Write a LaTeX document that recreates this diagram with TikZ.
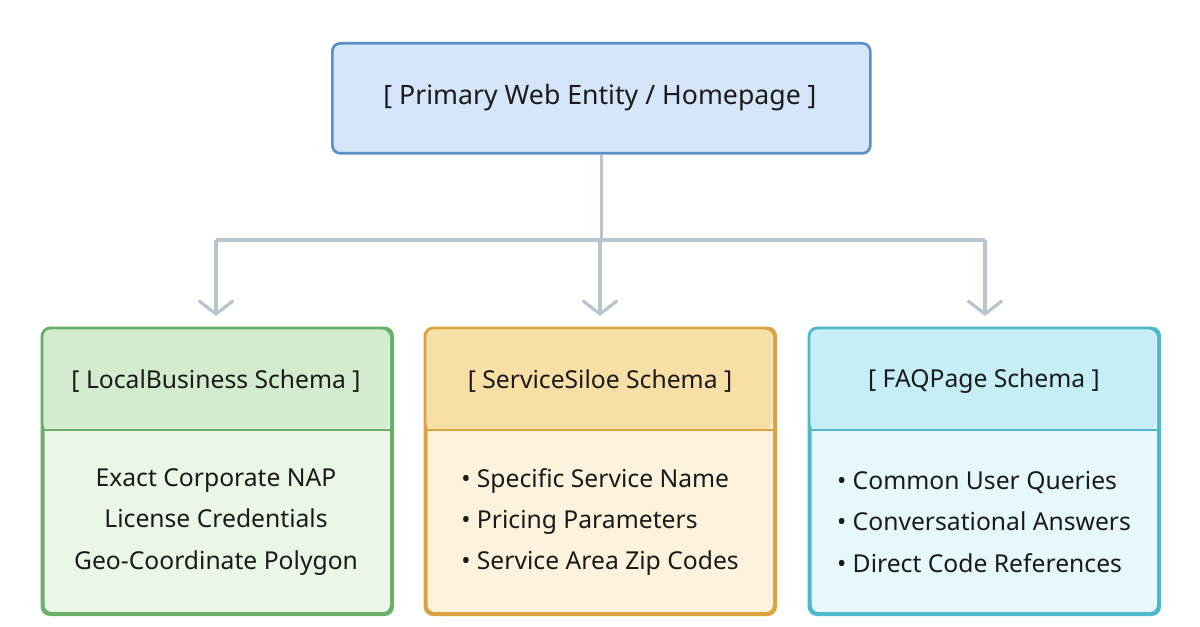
\documentclass[tikz,border=0pt]{standalone}
\usepackage{fontspec}
\setmainfont{Noto Sans}
\usetikzlibrary{arrows.meta,positioning}
\definecolor{conn}{HTML}{B8C4CF}
\definecolor{tb}{HTML}{5B8FC9}\definecolor{tf}{HTML}{D6E6FA}
\definecolor{gb}{HTML}{6AAF6A}\definecolor{gh}{HTML}{D2ECCD}\definecolor{gf}{HTML}{EAF6E6}
\definecolor{ob}{HTML}{D9A441}\definecolor{oh}{HTML}{F8DFA6}\definecolor{of}{HTML}{FDF3DD}
\definecolor{cb}{HTML}{4FB8CC}\definecolor{ch}{HTML}{C5EEF6}\definecolor{cf}{HTML}{E6F8FB}
\definecolor{txt}{HTML}{1A1A1A}
\begin{document}
\begin{tikzpicture}[x=0.75pt,y=-0.75pt,
  txtstyle/.style={text=txt,font=\fontsize{18.5pt}{30.8pt}\selectfont},
  body/.style={draw=#1,line width=2pt,rounded corners=6pt,minimum width=261pt,minimum height=213pt,anchor=north west,inner sep=0pt},
  head/.style={txtstyle,anchor=center},
  conn/.style={draw=conn,line width=2.4pt},
  arr/.style={conn,-{Straight Barb[length=10pt,width=26pt,line width=2.4pt]}}]
\useasboundingbox[fill=white] (0,0) rectangle (1200,627);
% top
\node[draw=tb,fill=tf,line width=2pt,rounded corners=6pt,minimum width=403.5pt,minimum height=82.5pt,anchor=north west,inner sep=0pt] (top) at (331,42) {};
\node[txtstyle,font=\fontsize{20pt}{24pt}\selectfont] (toptext) at (600,98) {[ Primary Web Entity / Homepage ]};
% boxes
\foreach \n/\x/\b/\h/\f in {L/42/gb/gh/gf, M/425/ob/oh/of, R/809/cb/ch/cf}{
  \node[body=\b,fill=\f] (\n) at (\x,328) {};
  \fill[\h,rounded corners=6pt] (\x+1,329) -- (\x+1,430) -- (\x+348-1,430) -- (\x+348-1,329) -- cycle;
  \draw[\b,line width=2pt,rounded corners=6pt] (\n.north west) rectangle (\n.south east);
  \draw[\b,line width=2pt] (\x,430) -- (\x+348,430);
}
\node[head] (Lh) at (216,381) {[ LocalBusiness Schema ]};
\node[head] (Mh) at (600,381) {[ ServiceSiloe Schema ]};
\node[head] (Rh) at (984,381) {[ FAQPage Schema ]};
\node[txtstyle,align=center] (Lb) at (216,522) {Exact Corporate NAP\\License Credentials\\Geo-Coordinate Polygon};
\node[txtstyle,align=left] (Mb) at (600,522) {• Specific Service Name\\• Pricing Parameters\\• Service Area Zip Codes};
\node[txtstyle,align=left] (Rb) at (984,522) {• Common User Queries\\• Conversational Answers\\• Direct Code References};
% connectors
\coordinate (j) at (600,240);
\coordinate (jl) at (216,240);
\coordinate (jr) at (985,240);
\draw[conn] (top.south) -- (top.south |- j);
\draw[conn] (jl) -- (jr);
\draw[arr] (jl) -- (216,316);
\draw[arr] (j) -- (600,316);
\draw[arr] (jr) -- (985,316);
\end{tikzpicture}
\end{document}
